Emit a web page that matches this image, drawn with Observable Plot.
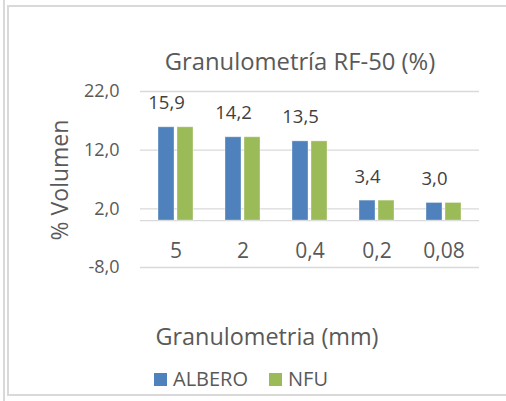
<!DOCTYPE html>
<html>
<head>
<meta charset="utf-8">
<script src="https://cdn.jsdelivr.net/npm/d3@7"></script>
<script src="https://cdn.jsdelivr.net/npm/@observablehq/plot@0.6"></script>
<style>
  html, body { margin: 0; padding: 0; background: #fff; }
  #wrap { position: relative; width: 506px; height: 401px; overflow: hidden; font-family: "Open Sans", sans-serif; color: #595959; }
  #wrap svg { position: absolute; left: 0; top: 0; }
  .frameL { position: absolute; left: 3px; top: 0; width: 2px; height: 401px; background: #d9d9d9; }
  .frameIn { position: absolute; left: 7px; top: 5px; width: 510px; height: 391px; border-left: 2px solid #d9d9d9; border-top: 2px solid #d9d9d9; border-bottom: 2px solid #d9d9d9; box-sizing: border-box; }
  .txt { position: absolute; white-space: nowrap; transform: translate(-50%, -50%); line-height: 1; }
  .leg { position: absolute; display: flex; align-items: center; font-size: 20px; top: 379px; transform: translateY(-50%); line-height: 1; }
  .sw { display: inline-block; width: 13px; height: 13px; margin-right: 6px; }
</style>
</head>
<body>
<div id="wrap">
  <div class="frameL"></div>
  <div class="frameIn"></div>
</div>
<script>
const title = "Granulometría RF-50 (%)";
const xTitle = "Granulometria (mm)";
const yTitle = "% Volumen";
const categories = ["5", "2", "0,4", "0,2", "0,08"];
const series = ["ALBERO", "NFU"];
const albero = [15.9, 14.2, 13.5, 3.4, 3.0];
const nfu = [15.9, 14.2, 13.5, 3.4, 3.0];
const yTicks = [-8, 2, 12, 22];
const colors = ["#4F81BD", "#9BBB59"];

const rows = [];
categories.forEach((c, i) => {
  rows.push({cat: c, series: "ALBERO", value: albero[i]});
  rows.push({cat: c, series: "NFU", value: nfu[i]});
});
const fmt = d => d.toFixed(1).replace(".", ",");
const textColor = "#595959";

const chart = Plot.plot({
  width: 506,
  height: 401,
  marginTop: 91,
  marginBottom: 134,
  marginLeft: 140,
  marginRight: 27,
  style: {fontFamily: "'Open Sans', sans-serif", color: textColor, background: "transparent", overflow: "visible"},
  x: {type: "band", domain: categories, paddingInner: 0.484, paddingOuter: 0.242, axis: null},
  y: {domain: [-8, 22], axis: null},
  color: {domain: series, range: colors},
  marks: [
    Plot.ruleY(yTicks, {stroke: "#d9d9d9", strokeWidth: 1.3}),
    Plot.ruleY([0], {stroke: "#d9d9d9", strokeWidth: 1.3}),
    Plot.barY(rows.filter(d => d.series === "ALBERO"), {x: "cat", y: "value", fill: "series", insetRight: 19, stroke: "#ffffff", strokeOpacity: 0.35, strokeWidth: 1}),
    Plot.barY(rows.filter(d => d.series === "NFU"), {x: "cat", y: "value", fill: "series", insetLeft: 19, stroke: "#ffffff", strokeOpacity: 0.35, strokeWidth: 1}),
    Plot.text(rows.filter(d => d.series === "ALBERO"), {x: "cat", y: "value", text: d => fmt(d.value), dx: -9.5, dy: -24, fontSize: 18.5, fill: "#404040"}),
    Plot.text(categories, {x: d => d, frameAnchor: "bottom", lineAnchor: "middle", dy: -16, fontSize: 21, fill: textColor}),
    Plot.axisY(yTicks, {tickSize: 0, tickPadding: 21, tickFormat: fmt, fontSize: 18, fill: textColor, label: null})
  ]
});
const wrap = document.getElementById("wrap");
wrap.appendChild(chart);

function addText(t, x, y, size, rotate) {
  const el = document.createElement("div");
  el.className = "txt";
  el.textContent = t;
  el.style.left = x + "px";
  el.style.top = y + "px";
  el.style.fontSize = size + "px";
  if (rotate) el.style.transform = "translate(-50%, -50%) rotate(" + rotate + "deg)";
  wrap.appendChild(el);
}
addText(title, 300, 62, 23.8);
addText(xTitle, 267, 337, 23.4);
addText(yTitle, 59, 180, 23, -90);

series.forEach((s, i) => {
  const el = document.createElement("div");
  el.className = "leg";
  el.style.left = (i === 0 ? 154 : 269) + "px";
  const sw = document.createElement("span");
  sw.className = "sw";
  sw.style.background = colors[i];
  el.appendChild(sw);
  el.appendChild(document.createTextNode(s));
  wrap.appendChild(el);
});
</script>
</body>
</html>
